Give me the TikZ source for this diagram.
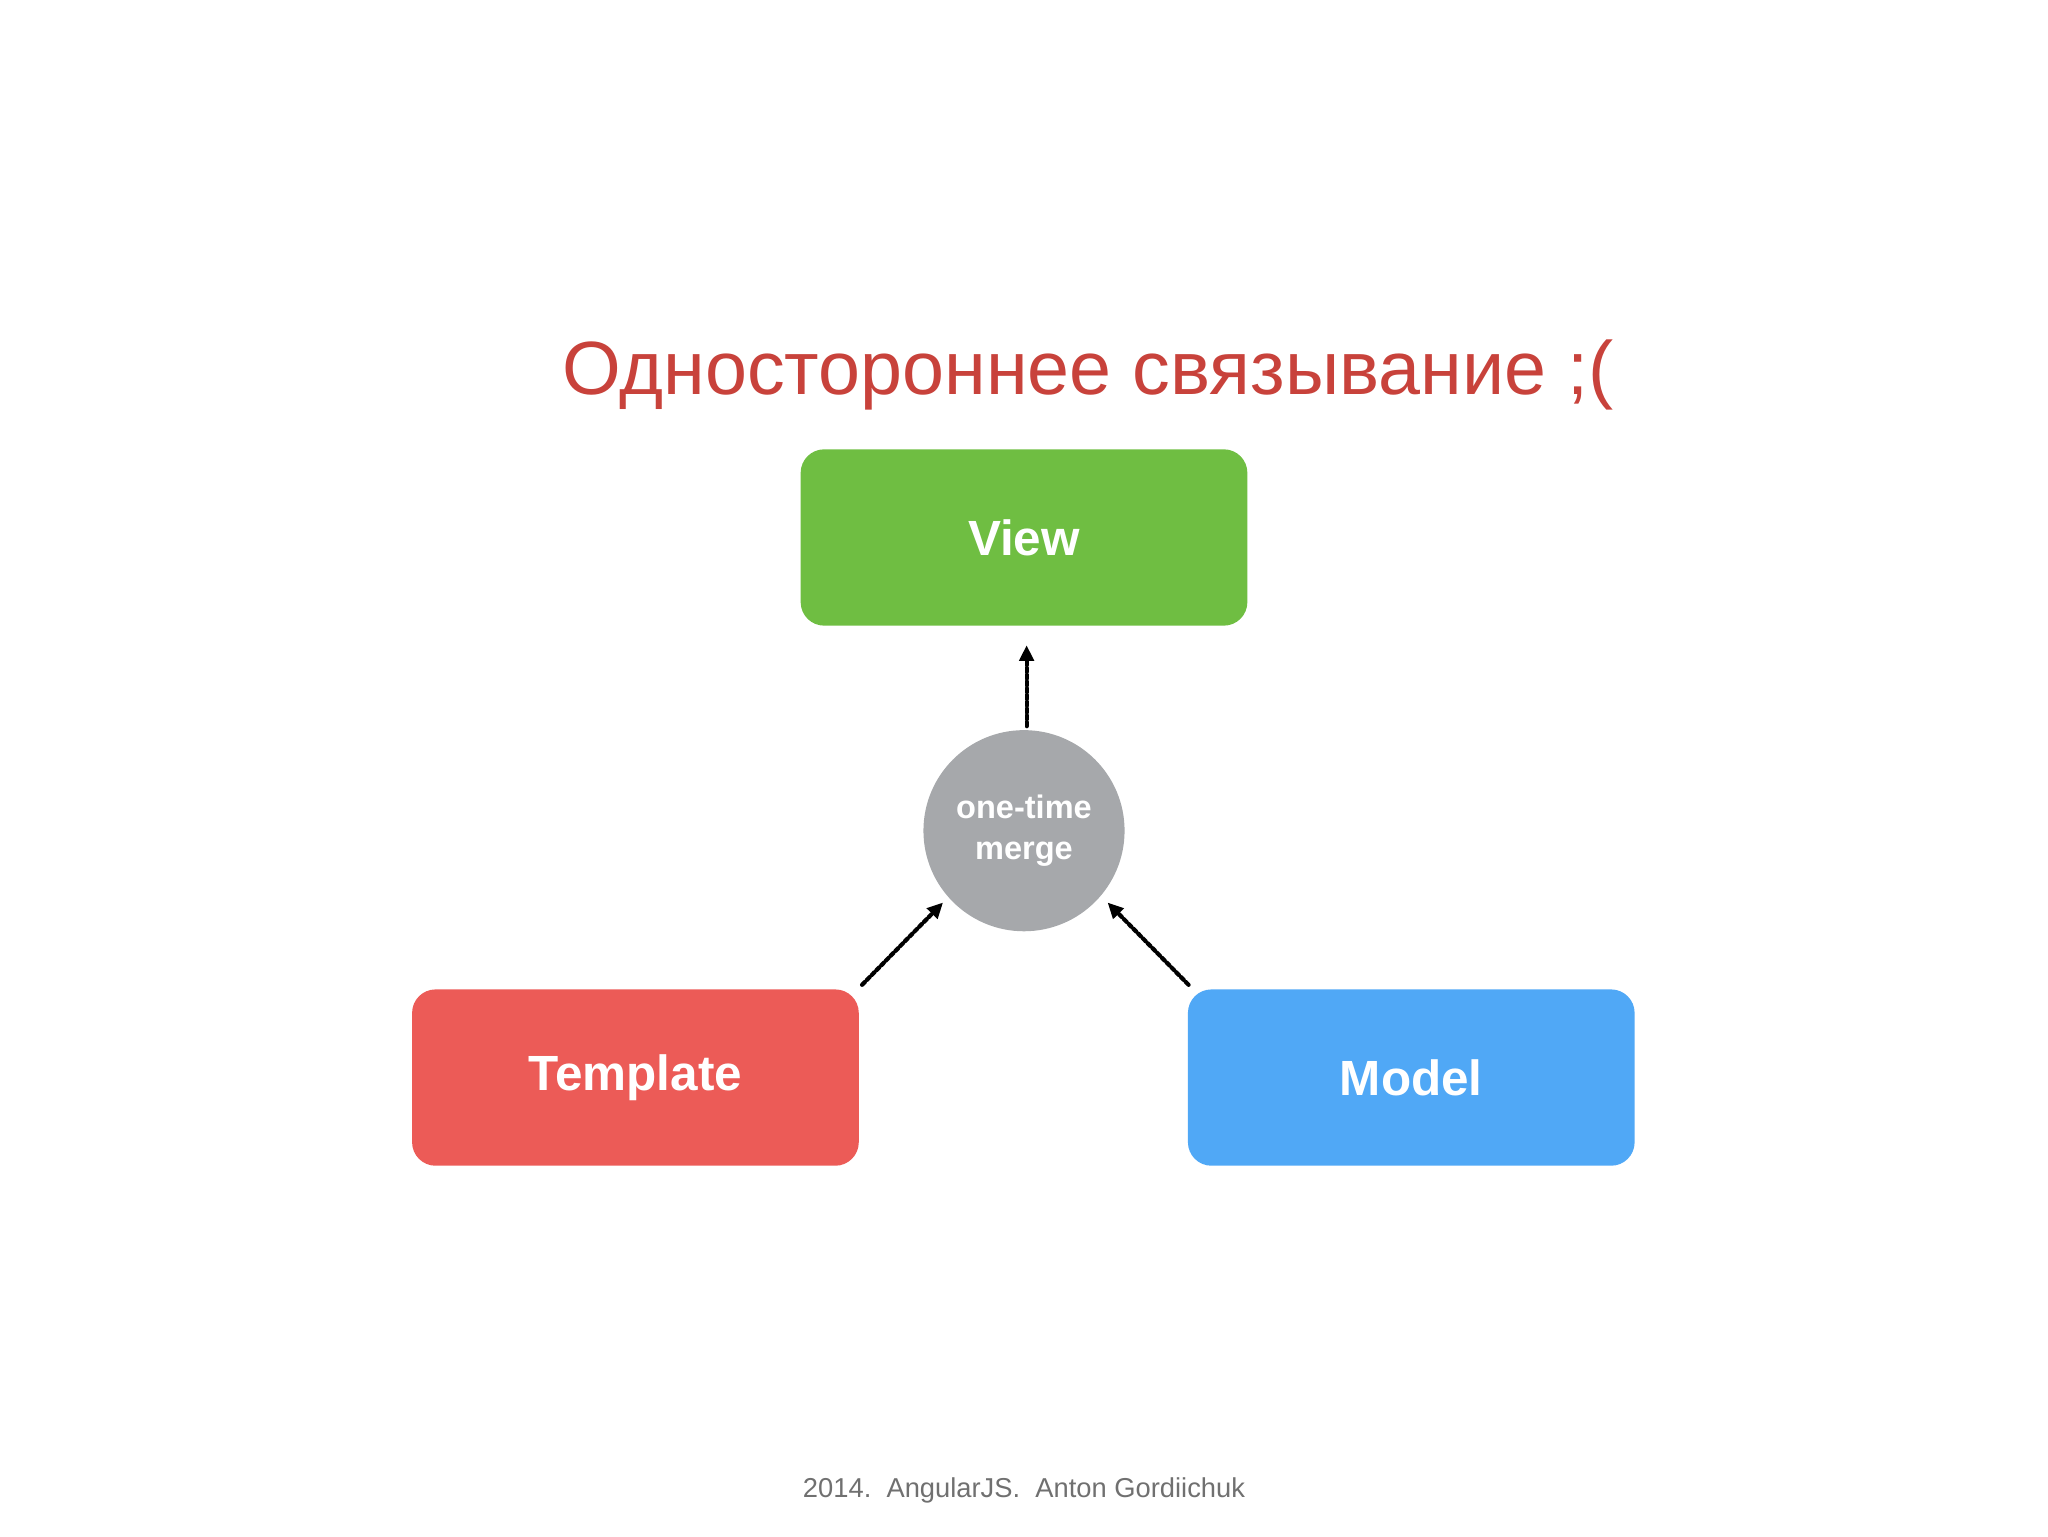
\documentclass[tikz,border=0pt]{standalone}
\usepackage{fontspec}
\setmainfont{Liberation Sans}
\usetikzlibrary{arrows.meta}
\definecolor{titlered}{HTML}{C8423B}
\definecolor{vgreen}{HTML}{6FBE42}
\definecolor{tred}{HTML}{EC5B57}
\definecolor{mblue}{HTML}{50A8F6}
\definecolor{cgray}{HTML}{A6A8AB}
\definecolor{foot}{HTML}{707070}
\tikzset{
  box/.style={rounded corners=18bp, minimum width=342bp, minimum height=135bp, text=white, font=\fontsize{38}{44}\selectfont\bfseries},
  conn/.style={line width=3.2bp, dotted, line cap=round, -{Triangle[length=12bp,width=11bp]}}
}
\begin{document}
\begin{tikzpicture}[x=1bp,y=-1bp]
\useasboundingbox (0,0) rectangle (1568,1176);
\node[text=titlered, font=\fontsize{58}{64}\selectfont] (title) at (833,287) {Одностороннее связывание ;(};
\node[box, fill=vgreen] (view) at (784,411.5) {View};
\node[box, fill=tred] (tpl) at (486.5,825) {Template};
\node[box, fill=mblue] (model) at (1080.5,825) {Model};
\node[circle, fill=cgray, minimum size=154bp, inner sep=0, text=white, align=center, font=\fontsize{25}{31}\selectfont\bfseries] (merge) at (784,636) {one-time\\merge};
\coordinate (vs) at (786,556);
\coordinate (ve) at (786,494);
\coordinate (ts) at (660,754);
\coordinate (te) at (722,691);
\coordinate (ms) at (910,754);
\coordinate (me) at (848,691);
\draw[conn] (vs) -- (ve);
\draw[conn] (ts) -- (te);
\draw[conn] (ms) -- (me);
\node[text=foot, font=\fontsize{21}{24}\selectfont] (footer) at (784,1141) {2014.\ \ AngularJS.\ \ Anton Gordiichuk};
\end{tikzpicture}
\end{document}
